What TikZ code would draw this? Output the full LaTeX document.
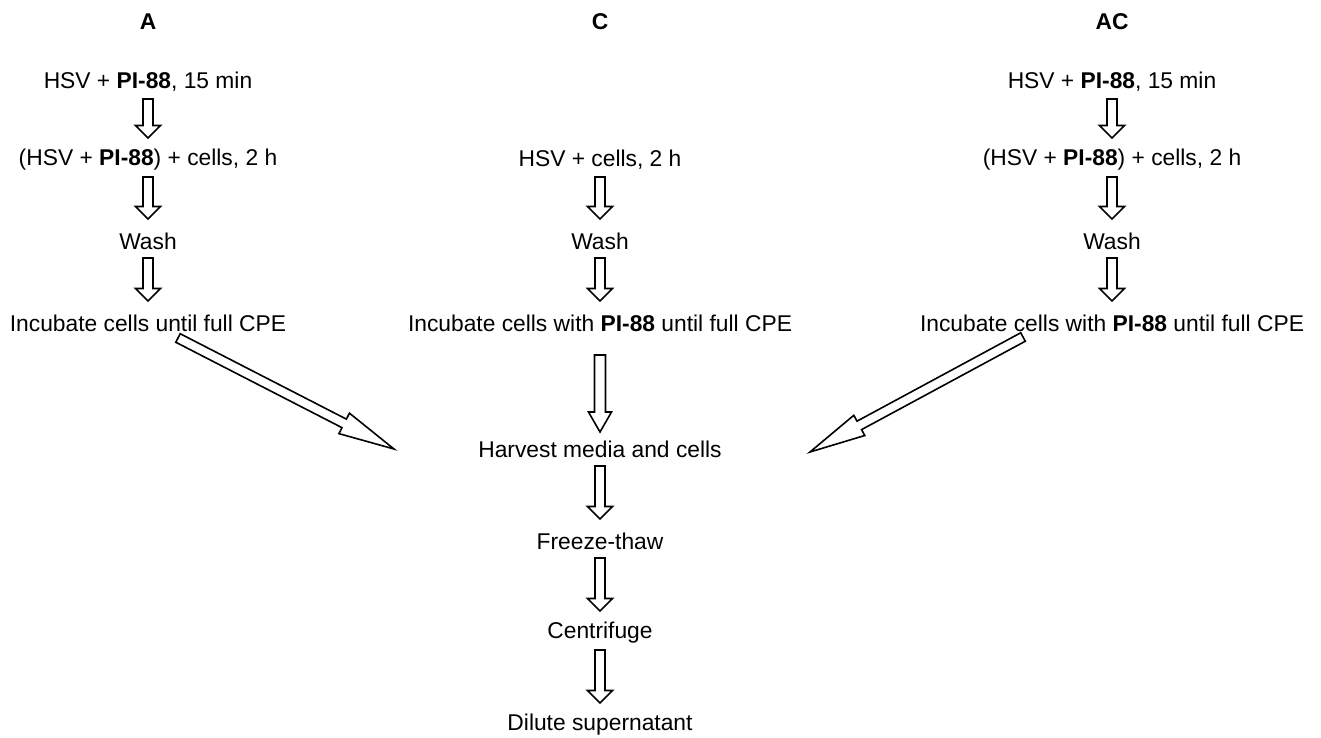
\documentclass[tikz,border=0pt]{standalone}
\usepackage{fontspec}
\setmainfont{Liberation Sans}
\usetikzlibrary{calc}

\newcommand{\blockarrow}[5]{%
	\path let \p1=#1, \p2=#2 in \pgfextra{%
		\pgfmathsetmacro{\arrlen}{veclen(\x2-\x1,\y2-\y1)}%
		\pgfmathsetmacro{\arrang}{atan2(\y2-\y1,\x2-\x1)}%
		\xdef\arrlen{\arrlen}\xdef\arrang{\arrang}} coordinate (arrtail) at (\p1);
	\draw[blockarrow, shift={(arrtail)}, rotate=\arrang] (0pt,-#3) -- ({\arrlen pt-#5},-#3) -- ({\arrlen pt-#5},-#4) -- ({\arrlen pt},0pt) -- ({\arrlen pt-#5},#4) -- ({\arrlen pt-#5},#3) -- (0pt,#3) -- cycle;
}
\newcommand{\stepdown}[2]{\blockarrow{($(#1)+(0,-17)$)}{($(#1 |- #2)+(0,22)$)}{2.5pt}{6.25pt}{6.25pt}}

\begin{document}
\begin{tikzpicture}[x=0.5pt,y=0.5pt,
	lbl/.style={inner sep=0pt,font=\fontsize{11.4}{14}\selectfont},
	head/.style={inner sep=0pt,font=\fontsize{11.4}{14}\selectfont\bfseries},
	blockarrow/.style={draw,line width=0.8pt,fill=white,line join=miter}]
		\useasboundingbox (0,0) rectangle (1321,-738);
		\node (hA) at (148,-22) [head] {A};
		\node (hC) at (600,-22) [head] {C};
		\node (hAC) at (1112,-22) [head] {AC};
		\node (a1) at (148,-82) [lbl] {HSV + \textbf{PI-88}, 15 min};
		\node (a2) at (148,-160) [lbl] {(HSV + \textbf{PI-88}) + cells, 2 h};
		\node (a3) at (148,-241) [lbl] {Wash};
		\node (a4) at (148,-323) [lbl] {Incubate cells until full CPE};
		\node (c2) at (600,-160) [lbl] {HSV + cells, 2 h};
		\node (c3) at (600,-241) [lbl] {Wash};
		\node (c4) at (600,-323) [lbl] {Incubate cells with \textbf{PI-88} until full CPE};
		\node (ac1) at (1112,-82) [lbl] {HSV + \textbf{PI-88}, 15 min};
		\node (ac2) at (1112,-160) [lbl] {(HSV + \textbf{PI-88}) + cells, 2 h};
		\node (ac3) at (1112,-241) [lbl] {Wash};
		\node (ac4) at (1112,-323) [lbl] {Incubate cells with \textbf{PI-88} until full CPE};
		\node (b1) at (600,-449) [lbl] {Harvest media and cells};
		\node (b2) at (600,-541) [lbl] {Freeze-thaw};
		\node (b3) at (600,-633) [lbl] {Centrifuge};
		\node (b4) at (600,-725) [lbl] {Dilute supernatant};
		\stepdown{a1}{a2}
		\stepdown{a2}{a3}
		\stepdown{a3}{a4}
		\stepdown{c2}{c3}
		\stepdown{c3}{c4}
		\stepdown{ac1}{ac2}
		\stepdown{ac2}{ac3}
		\stepdown{ac3}{ac4}
		\stepdown{b1}{b2}
		\stepdown{b2}{b3}
		\stepdown{b3}{b4}
		\blockarrow{($(c4)+(0,-32)$)}{($(b1)+(0,17)$)}{2.75pt}{5.75pt}{10pt}
		\blockarrow{($(a4)+(30,-15)$)}{($(b1)+(-206,0)$)}{2.4pt}{5.75pt}{28pt}
		\blockarrow{($(ac4)+(-89,-14)$)}{($(b1)+(210,-3)$)}{2.4pt}{5.75pt}{28pt}
	\end{tikzpicture}
\end{document}
